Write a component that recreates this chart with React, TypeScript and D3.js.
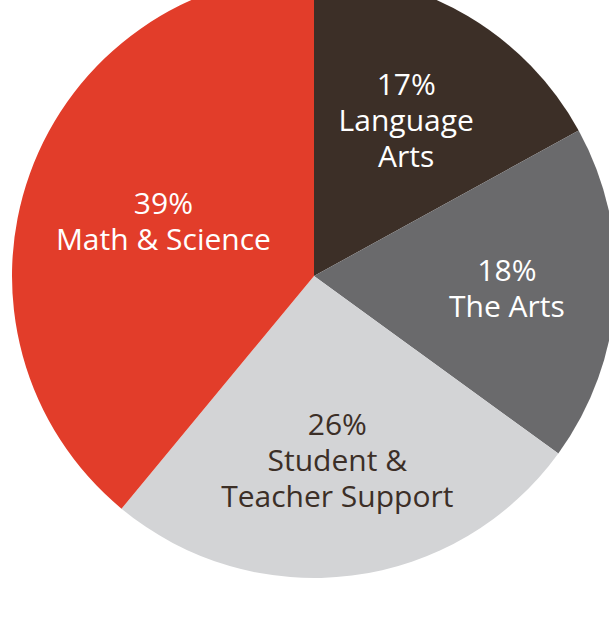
import React from "react";
import * as d3 from "d3";

const categories = ["Language Arts", "The Arts", "Student & Teacher Support", "Math & Science"];
const values = [17, 18, 26, 39];
const labelLines = [["17%", "Language", "Arts"], ["18%", "The Arts"], ["26%", "Student &", "Teacher Support"], ["39%", "Math & Science"]];

const colors = ["#3c2f27", "#6a6a6c", "#d3d4d6", "#e23d2a"];
const textColors = ["#ffffff", "#ffffff", "#3c2f27", "#ffffff"];
const labelRadius = [0.60, 0.64, 0.615, 0.53];

const W = 609, H = 644;
const cx = 314, cy = 276, R = 302;
const fontSize = 30;
const lineH = 36;

export default function App() {
  const pie = d3.pie<number>().sort(null).value((d) => d);
  const arcs = pie(values);
  const arc = d3.arc<d3.PieArcDatum<number>>().innerRadius(0).outerRadius(R);
  return (
    <svg width={W} height={H} style={{ position: "absolute", left: 0, top: 0, background: "#fff" }}>
      <g transform={`translate(${cx},${cy})`}>
        {arcs.map((a, i) => (
          <path key={categories[i]} d={arc(a) || ""} fill={colors[i]} />
        ))}
        {arcs.map((a, i) => {
          const mid = (a.startAngle + a.endAngle) / 2;
          const r = R * labelRadius[i];
          const x = Math.sin(mid) * r;
          const y = -Math.cos(mid) * r;
          const lines = labelLines[i];
          const y0 = y - ((lines.length - 1) * lineH) / 2;
          return (
            <text key={"t" + i} textAnchor="middle" fill={textColors[i]}
              style={{ fontFamily: "'Open Sans', 'Noto Sans', sans-serif", fontSize }}>
              {lines.map((l, j) => (
                <tspan key={j} x={x} y={y0 + j * lineH} dy="0.35em">{l}</tspan>
              ))}
            </text>
          );
        })}
      </g>
    </svg>
  );
}
